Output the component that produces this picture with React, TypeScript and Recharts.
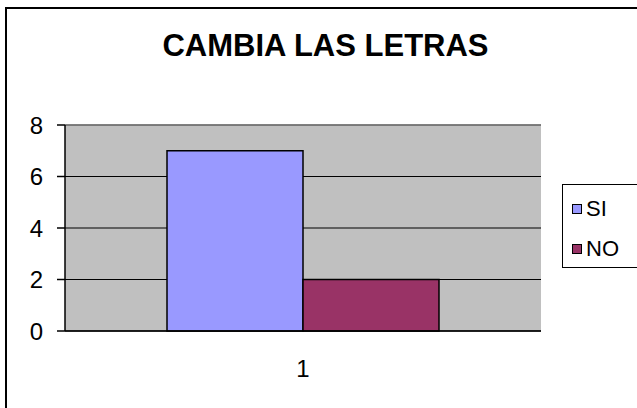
import { BarChart, Bar, XAxis, YAxis, CartesianGrid, Legend, ReferenceLine } from "recharts";

const categories = ["1"];
const siValues = [7];
const noValues = [2];
const yTicks = [0, 2, 4, 6, 8];

const seriesNames = { si: "SI", no: "NO" };
const colors = { si: "#9999FF", no: "#993366" };
const legendOrder = [seriesNames.si, seriesNames.no];

const data = categories.map((name, i) => ({ name, si: siValues[i], no: noValues[i] }));

const FONT = "Arial, 'Liberation Sans', sans-serif";

function LegendBox(props: any) {
    const items = [...(props.payload || [])].sort(
        (a: any, b: any) => legendOrder.indexOf(a.value) - legendOrder.indexOf(b.value)
    );
    return (
        <div
            style={{
                boxSizing: "border-box",
                width: 100,
                height: 84,
                border: "1px solid #000",
                background: "#fff",
                paddingTop: 4,
                fontFamily: FONT,
            }}
        >
            {items.map((item: any) => (
                <div
                    key={item.value}
                    style={{ display: "flex", alignItems: "center", height: 40, paddingLeft: 9 }}
                >
                    <span
                        style={{
                            boxSizing: "border-box",
                            flex: "0 0 10px",
                            width: 10,
                            height: 10,
                            border: "1px solid #000",
                            background: item.color,
                            marginRight: 4,
                        }}
                    />
                    <span style={{ fontSize: 22, lineHeight: "40px", color: "#000" }}>{item.value}</span>
                </div>
            ))}
        </div>
    );
}

export default function App() {
    return (
        <div
            style={{
                position: "fixed",
                left: 0,
                top: 0,
                width: 637,
                height: 408,
                overflow: "hidden",
                background: "#fff",
            }}
        >
            {/* outer chart frame, only top and left show */}
            <div
                style={{
                    position: "absolute",
                    left: 5,
                    top: 7,
                    width: 700,
                    height: 500,
                    borderLeft: "2px solid #000",
                    borderTop: "2px solid #000",
                }}
            />
            <div
                style={{
                    position: "absolute",
                    left: 7,
                    top: 30,
                    width: 637,
                    textAlign: "center",
                    fontFamily: FONT,
                    fontWeight: "bold",
                    fontSize: 31,
                    lineHeight: "31px",
                    color: "#000",
                }}
            >
                CAMBIA LAS LETRAS
            </div>
            <div style={{ position: "absolute", left: 0, top: 0 }}>
                <BarChart
                    width={637}
                    height={408}
                    data={data}
                    margin={{ top: 125, right: 96, bottom: 37, left: 25 }}
                    barGap={0}
                    barSize={136}
                >
                    <CartesianGrid vertical={false} fill="#C0C0C0" stroke="#000" strokeOpacity={1} />
                    <XAxis
                        xAxisId="edge"
                        type="number"
                        domain={[0, 1]}
                        ticks={[0, 1]}
                        tick={false}
                        axisLine={false}
                        tickLine={{ stroke: "#000", strokeWidth: 1.5 }}
                        tickSize={9}
                        height={0}
                    />
                    <XAxis
                        xAxisId="cat"
                        dataKey="name"
                        stroke="#000"
                        strokeWidth={1.5}
                        tickLine={false}
                        tickSize={0}
                        tickMargin={29}
                        height={40}
                        tick={{ fill: "#000", fontSize: 24, fontFamily: FONT }}
                    />
                    <YAxis
                        domain={[0, 8]}
                        ticks={yTicks}
                        width={40}
                        stroke="#000"
                        strokeWidth={1.5}
                        tickSize={8}
                        tickMargin={14}
                        tickLine={{ stroke: "#000", strokeWidth: 1.5 }}
                        tick={{ fill: "#000", fontSize: 24, fontFamily: FONT }}
                    />
                    <YAxis
                        yAxisId="r"
                        orientation="right"
                        domain={[0, 8]}
                        width={0}
                        tick={false}
                        tickLine={false}
                        axisLine={{ stroke: "#808080", strokeWidth: 1.5 }}
                    />
                    <ReferenceLine y={8} xAxisId="cat" stroke="#808080" strokeWidth={1.5} />
                    <Bar
                        dataKey="si"
                        name={seriesNames.si}
                        xAxisId="cat"
                        fill={colors.si}
                        stroke="#000"
                        strokeWidth={1.5}
                        isAnimationActive={false}
                    />
                    <Bar
                        dataKey="no"
                        name={seriesNames.no}
                        xAxisId="cat"
                        fill={colors.no}
                        stroke="#000"
                        strokeWidth={1.5}
                        isAnimationActive={false}
                    />
                    <Legend
                        layout="vertical"
                        align="center"
                        verticalAlign="middle"
                        content={LegendBox}
                        wrapperStyle={{ left: 562, top: 184, width: 100, height: 84 }}
                    />
                </BarChart>
            </div>
        </div>
    );
}
